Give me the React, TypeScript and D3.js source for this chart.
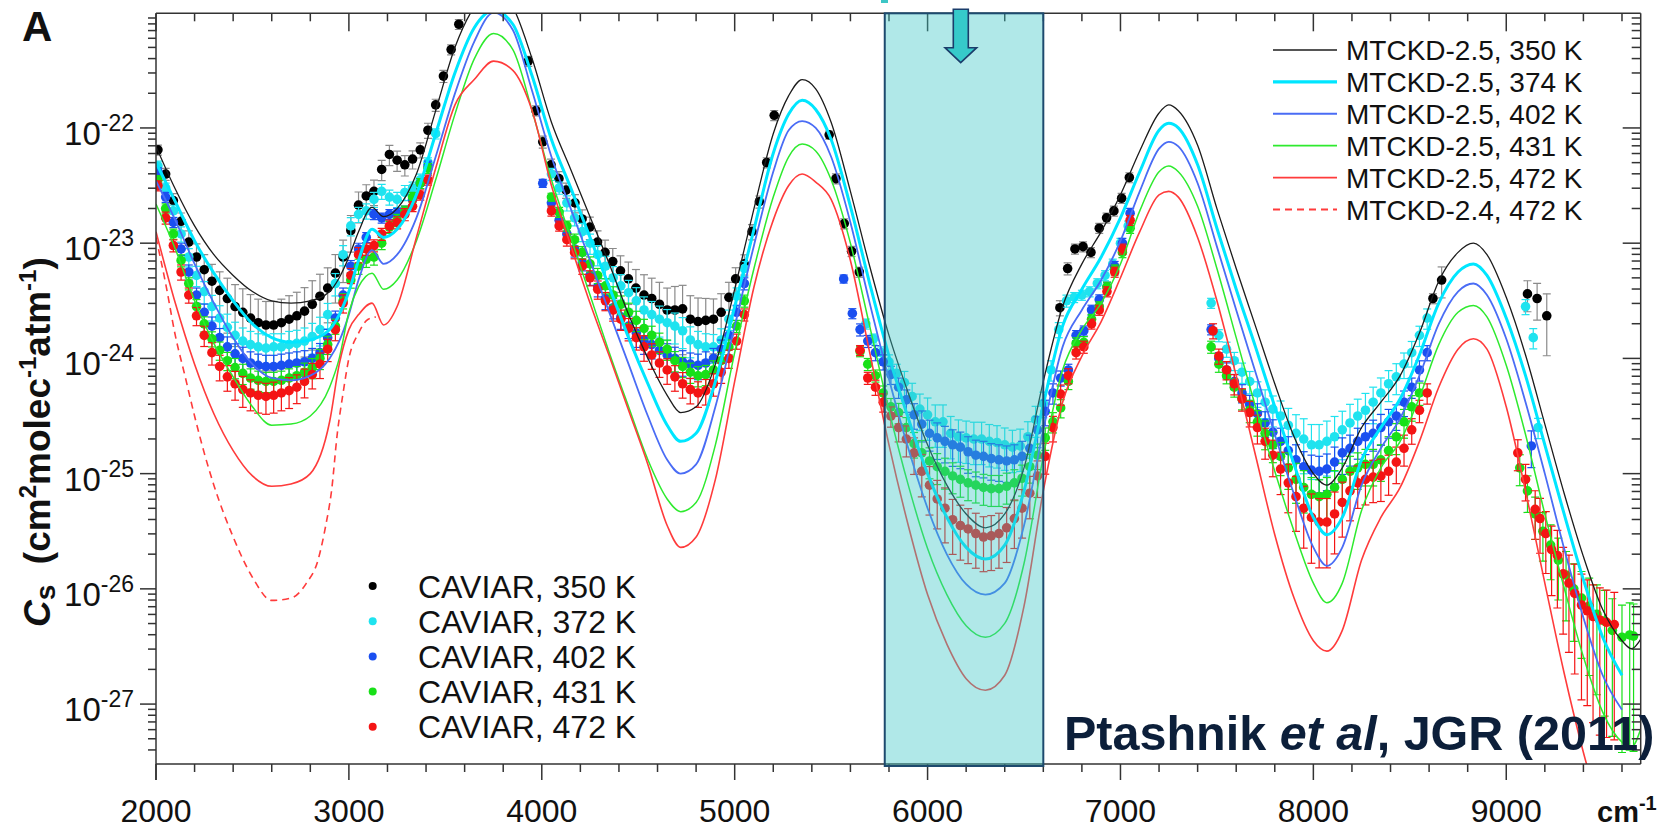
import React from "react";
import * as d3 from "d3";

const FONT = "'Liberation Sans', Arial, Helvetica, sans-serif";
const W = 1661;
const H = 829;
const PL = 156;
const PR = 1640.7;
const PT = 13.3;
const PB = 764;

const X_DOMAIN = [2000, 9697];
const Y_LOG_MIN = -27.52;
const Y_LOG_MAX = -21.005;

const xMajorTicks = [2000, 3000, 4000, 5000, 6000, 7000, 8000, 9000];
const yDecades = [-27, -26, -25, -24, -23, -22];

// ---------- MTCKD model curves (log10 of Cs) ----------
const modelX = [2000, 2100, 2200, 2300, 2400, 2500, 2600, 2700, 2800, 2900, 2950, 3000, 3050, 3120, 3180, 3250, 3350, 3450, 3550, 3650, 3750, 3850, 3950, 4050, 4150, 4250, 4350, 4450, 4550, 4650, 4720, 4800, 4900, 5000, 5100, 5200, 5280, 5350, 5420, 5500, 5600, 5700, 5800, 5900, 6000, 6100, 6200, 6300, 6400, 6500, 6600, 6700, 6800, 6900, 7000, 7100, 7200, 7250, 7300, 7400, 7500, 7600, 7700, 7800, 7900, 8000, 8070, 8150, 8250, 8350, 8450, 8550, 8650, 8750, 8830, 8900, 9000, 9100, 9200, 9300, 9400, 9500, 9600, 9650, 9700];

const mtckd350 = [-22.16, -22.53, -22.85, -23.10, -23.28, -23.42, -23.50, -23.52, -23.50, -23.42, -23.30, -23.12, -22.90, -22.69, -22.77, -22.70, -22.40, -21.85, -21.30, -20.95, -20.80, -20.95, -21.40, -21.95, -22.36, -22.77, -23.18, -23.62, -24.00, -24.32, -24.47, -24.42, -24.05, -23.40, -22.70, -22.05, -21.72, -21.58, -21.66, -21.95, -22.55, -23.20, -23.80, -24.30, -24.75, -25.10, -25.35, -25.47, -25.35, -24.95, -24.20, -23.55, -23.18, -22.90, -22.58, -22.20, -21.87, -21.80, -21.85, -22.15, -22.70, -23.22, -23.72, -24.22, -24.68, -25.00, -25.10, -24.95, -24.60, -24.38, -24.15, -23.78, -23.33, -23.08, -23.00, -23.10, -23.47, -23.97, -24.57, -25.17, -25.72, -26.18, -26.45, -26.52, -26.43];

const mtckd374 = [-22.30, -22.64, -22.98, -23.26, -23.50, -23.70, -23.82, -23.86, -23.84, -23.75, -23.62, -23.42, -23.15, -22.88, -22.95, -22.88, -22.58, -22.05, -21.52, -21.13, -20.98, -21.10, -21.55, -22.10, -22.52, -22.95, -23.38, -23.82, -24.22, -24.58, -24.72, -24.65, -24.20, -23.55, -22.88, -22.22, -21.88, -21.76, -21.84, -22.10, -22.68, -23.35, -23.98, -24.52, -25.00, -25.38, -25.64, -25.74, -25.62, -25.15, -24.40, -23.72, -23.40, -23.12, -22.78, -22.38, -22.02, -21.96, -22.00, -22.32, -22.87, -23.40, -23.90, -24.42, -24.92, -25.38, -25.53, -25.38, -24.88, -24.60, -24.35, -23.97, -23.52, -23.25, -23.18, -23.28, -23.65, -24.15, -24.75, -25.35, -25.92, -26.42, -26.75, null, null];

const mtckd402 = [-22.46, -22.80, -23.18, -23.52, -23.82, -24.05, -24.17, -24.19, -24.15, -24.00, -23.85, -23.62, -23.32, -23.06, -23.18, -23.10, -22.78, -22.25, -21.70, -21.25, -21.00, -21.15, -21.68, -22.25, -22.70, -23.15, -23.60, -24.05, -24.50, -24.88, -25.00, -24.92, -24.42, -23.72, -23.02, -22.38, -22.02, -21.94, -22.00, -22.25, -22.82, -23.52, -24.18, -24.78, -25.30, -25.70, -25.96, -26.05, -25.95, -25.45, -24.62, -23.90, -23.58, -23.32, -22.98, -22.55, -22.18, -22.12, -22.16, -22.48, -23.03, -23.58, -24.12, -24.66, -25.18, -25.64, -25.80, -25.64, -25.10, -24.78, -24.52, -24.15, -23.70, -23.42, -23.35, -23.45, -23.83, -24.38, -25.00, -25.65, -26.25, -26.75, -27.05, null, null];

const mtckd431 = [-22.66, -23.05, -23.50, -23.87, -24.16, -24.42, -24.58, -24.57, -24.50, -24.25, -24.00, -23.60, -23.38, -23.26, -23.40, -23.32, -22.98, -22.45, -21.88, -21.40, -21.18, -21.32, -21.85, -22.45, -22.95, -23.45, -23.95, -24.42, -24.88, -25.22, -25.33, -25.25, -24.75, -23.95, -23.22, -22.60, -22.25, -22.14, -22.20, -22.45, -23.00, -23.72, -24.45, -25.10, -25.65, -26.05, -26.32, -26.42, -26.30, -25.78, -24.85, -24.10, -23.75, -23.52, -23.18, -22.72, -22.38, -22.33, -22.38, -22.68, -23.22, -23.82, -24.42, -24.98, -25.50, -25.95, -26.12, -25.95, -25.32, -24.95, -24.72, -24.34, -23.88, -23.60, -23.54, -23.64, -24.06, -24.66, -25.35, -25.99, -26.59, -27.07, -27.33, -27.37, -27.20];

const mtckd472 = [-22.90, -23.52, -24.05, -24.48, -24.80, -25.02, -25.11, -25.09, -25.00, -24.55, -24.05, -23.75, -23.62, -23.52, -23.71, -23.55, -22.95, -22.35, -21.80, -21.58, -21.42, -21.50, -21.85, -22.50, -23.02, -23.52, -23.98, -24.45, -24.92, -25.45, -25.64, -25.55, -25.05, -24.20, -23.38, -22.80, -22.50, -22.40, -22.47, -22.62, -23.15, -23.95, -24.75, -25.45, -26.05, -26.48, -26.78, -26.88, -26.75, -26.15, -25.15, -24.38, -23.98, -23.68, -23.30, -22.90, -22.58, -22.55, -22.60, -22.95, -23.50, -24.15, -24.84, -25.53, -26.08, -26.45, -26.54, -26.36, -25.75, -25.38, -25.12, -24.72, -24.25, -23.92, -23.83, -23.92, -24.42, -25.15, -25.95, -26.73, -27.42, -28.00, null, null, null];

const mtckd24X = [2000, 2050, 2100, 2150, 2200, 2250, 2300, 2400, 2500, 2600, 2700, 2780, 2840, 2880, 2910, 2940, 2970, 3000, 3050, 3100, 3140];
const mtckd24_472 = [-22.95, -23.35, -23.80, -24.15, -24.50, -24.82, -25.10, -25.55, -25.90, -26.10, -26.08, -25.95, -25.75, -25.45, -25.15, -24.65, -24.30, -24.00, -23.78, -23.66, -23.64];

// ---------- CAVIAR measurements: [wavenumber, log10 Cs, relative uncertainty] ----------
type Pt = [number, number, number];

const caviar350: Pt[] = [
  [2010, -22.19, 0.1], [2050, -22.40, 0.12], [2090, -22.63, 0.15], [2130, -22.81, 0.18], [2170, -22.99, 0.25], [2210, -23.12, 0.3], [2250, -23.23, 0.35], [2290, -23.33, 0.4], [2330, -23.41, 0.45], [2370, -23.48, 0.5], [2410, -23.55, 0.55], [2450, -23.60, 0.6], [2490, -23.65, 0.6], [2530, -23.69, 0.6], [2570, -23.71, 0.6], [2610, -23.71, 0.6], [2650, -23.69, 0.6], [2690, -23.66, 0.6], [2730, -23.63, 0.6], [2770, -23.59, 0.6], [2810, -23.53, 0.6], [2850, -23.46, 0.55], [2890, -23.39, 0.5], [2930, -23.26, 0.45], [2970, -23.12, 0.4], [3010, -22.89, 0.35], [3050, -22.67, 0.3], [3090, -22.59, 0.25], [3130, -22.55, 0.25], [3170, -22.36, 0.2], [3210, -22.23, 0.2], [3250, -22.28, 0.2], [3290, -22.32, 0.2], [3330, -22.27, 0.18], [3370, -22.19, 0.15], [3410, -22.02, 0.15], [3450, -21.80, 0.12], [3490, -21.55, 0.12], [3530, -21.32, 0.1], [3570, -21.10, 0.1],
  [3930, -21.42, 0.1], [3970, -21.85, 0.1], [4005, -22.12, 0.12], [4048, -22.32, 0.12], [4089, -22.44, 0.15], [4126, -22.54, 0.15], [4172, -22.65, 0.18], [4209, -22.79, 0.2], [4249, -22.86, 0.22], [4289, -22.99, 0.25], [4328, -23.08, 0.28], [4368, -23.16, 0.3], [4408, -23.24, 0.35], [4449, -23.31, 0.4], [4488, -23.39, 0.45], [4530, -23.45, 0.5], [4570, -23.48, 0.5], [4610, -23.53, 0.55], [4650, -23.58, 0.55], [4690, -23.58, 0.6], [4730, -23.57, 0.6], [4770, -23.66, 0.6], [4810, -23.68, 0.6], [4850, -23.67, 0.55], [4890, -23.66, 0.5], [4930, -23.60, 0.45], [4970, -23.47, 0.35], [5005, -23.31, 0.25], [5050, -23.18, 0.2], [5090, -22.90, 0.15], [5128, -22.64, 0.12], [5166, -22.30, 0.1], [5205, -21.89, 0.1],
  [5490, -22.06, 0.08], [5525, -22.44, 0.1], [5568, -22.83, 0.1], [5606, -23.07, 0.1], [5646, -23.25, 0.1],
  [6686, -23.56, 0.15], [6726, -23.22, 0.12], [6764, -23.05, 0.1], [6806, -23.03, 0.1], [6847, -23.08, 0.1], [6890, -22.87, 0.1], [6928, -22.78, 0.1], [6966, -22.72, 0.1], [7006, -22.61, 0.1], [7046, -22.43, 0.1],
  [8620, -23.48, 0.1], [8665, -23.32, 0.3], [9110, -23.44, 0.3], [9160, -23.48, 0.35], [9210, -23.63, 0.55],
];

const caviar372: Pt[] = [
  [2010, -22.33, 0.1], [2050, -22.52, 0.1], [2090, -22.72, 0.12], [2130, -22.92, 0.15], [2170, -23.12, 0.18], [2210, -23.28, 0.2], [2250, -23.42, 0.22], [2290, -23.55, 0.25], [2330, -23.65, 0.28], [2370, -23.73, 0.3], [2410, -23.80, 0.3], [2450, -23.85, 0.3], [2490, -23.88, 0.3], [2530, -23.90, 0.3], [2570, -23.91, 0.3], [2610, -23.90, 0.3], [2650, -23.90, 0.3], [2690, -23.88, 0.3], [2730, -23.87, 0.3], [2770, -23.85, 0.3], [2810, -23.81, 0.3], [2850, -23.75, 0.28], [2890, -23.62, 0.25], [2930, -23.35, 0.22], [2970, -23.10, 0.2], [3010, -22.85, 0.18], [3050, -22.75, 0.15], [3090, -22.72, 0.15], [3130, -22.62, 0.15], [3170, -22.55, 0.15], [3210, -22.60, 0.15], [3250, -22.62, 0.15], [3290, -22.56, 0.15], [3330, -22.52, 0.12], [3370, -22.45, 0.12], [3410, -22.30, 0.1], [3450, -22.05, 0.1],
  [4050, -22.40, 0.12], [4090, -22.52, 0.12], [4130, -22.65, 0.15], [4170, -22.78, 0.15], [4210, -22.90, 0.18], [4250, -23.00, 0.2], [4290, -23.10, 0.2], [4330, -23.20, 0.22], [4370, -23.30, 0.25], [4410, -23.37, 0.25], [4450, -23.43, 0.28], [4490, -23.50, 0.3], [4530, -23.58, 0.3], [4570, -23.62, 0.3], [4610, -23.66, 0.3], [4650, -23.69, 0.3], [4690, -23.72, 0.3], [4730, -23.76, 0.3], [4770, -23.84, 0.3], [4810, -23.88, 0.3], [4850, -23.90, 0.3], [4890, -23.90, 0.28], [4930, -23.84, 0.25], [4970, -23.66, 0.2], [5010, -23.46, 0.18], [5050, -23.22, 0.15],
  [5680, -23.70, 0.1], [5720, -23.83, 0.1], [5760, -23.95, 0.12], [5800, -24.03, 0.15], [5840, -24.13, 0.2], [5880, -24.21, 0.25], [5920, -24.33, 0.3], [5960, -24.44, 0.35], [6000, -24.49, 0.4], [6040, -24.55, 0.4], [6080, -24.55, 0.4], [6120, -24.65, 0.4], [6160, -24.68, 0.4], [6200, -24.69, 0.4], [6240, -24.70, 0.4], [6280, -24.70, 0.4], [6320, -24.72, 0.4], [6360, -24.73, 0.4], [6400, -24.75, 0.4], [6440, -24.77, 0.4], [6480, -24.76, 0.4], [6520, -24.68, 0.35], [6560, -24.53, 0.3], [6600, -24.39, 0.25], [6640, -24.10, 0.2], [6680, -23.75, 0.15], [6720, -23.50, 0.12], [6760, -23.47, 0.1], [6800, -23.45, 0.1], [6840, -23.42, 0.1], [6880, -23.35, 0.1], [6920, -23.28, 0.1], [6960, -23.18, 0.1], [7000, -23.00, 0.1], [7040, -22.85, 0.1],
  [7470, -23.52, 0.1], [7510, -23.80, 0.12], [7550, -23.92, 0.15], [7590, -24.02, 0.18], [7630, -24.12, 0.2], [7670, -24.20, 0.22], [7710, -24.30, 0.25], [7750, -24.38, 0.28], [7790, -24.44, 0.3], [7830, -24.50, 0.35], [7870, -24.58, 0.4], [7910, -24.65, 0.45], [7950, -24.70, 0.5], [7990, -24.75, 0.5], [8030, -24.75, 0.5], [8070, -24.72, 0.5], [8110, -24.68, 0.5], [8150, -24.62, 0.45], [8190, -24.56, 0.45], [8230, -24.50, 0.4], [8270, -24.45, 0.4], [8310, -24.38, 0.35], [8350, -24.30, 0.35], [8390, -24.22, 0.3], [8430, -24.16, 0.3], [8470, -24.05, 0.25], [8510, -23.95, 0.25], [8550, -23.80, 0.2], [8590, -23.65, 0.2],
  [9100, -23.55, 0.15], [9140, -23.82, 0.2], [9165, -24.60, 0.2],
];

const caviar402: Pt[] = [
  [2010, -22.38, 0.08], [2050, -22.60, 0.1], [2090, -22.82, 0.1], [2130, -23.05, 0.12], [2170, -23.25, 0.15], [2210, -23.45, 0.15], [2250, -23.60, 0.18], [2290, -23.72, 0.2], [2330, -23.82, 0.2], [2370, -23.90, 0.22], [2410, -23.96, 0.22], [2450, -24.00, 0.25], [2490, -24.04, 0.25], [2530, -24.06, 0.25], [2570, -24.07, 0.25], [2610, -24.07, 0.25], [2650, -24.06, 0.25], [2690, -24.05, 0.25], [2730, -24.04, 0.25], [2770, -24.03, 0.25], [2810, -24.00, 0.22], [2850, -23.95, 0.2], [2890, -23.82, 0.18], [2930, -23.65, 0.15], [2970, -23.45, 0.15], [3010, -23.20, 0.12], [3050, -23.05, 0.12], [3090, -22.95, 0.1], [3130, -22.75, 0.1], [3170, -22.78, 0.1], [3210, -22.75, 0.1], [3250, -22.74, 0.1], [3290, -22.72, 0.1], [3330, -22.62, 0.1], [3370, -22.48, 0.1], [3410, -22.33, 0.1],
  [4005, -22.48, 0.08], [4050, -22.65, 0.1], [4090, -22.80, 0.12], [4130, -22.92, 0.12], [4170, -23.05, 0.15], [4210, -23.17, 0.15], [4250, -23.28, 0.18], [4290, -23.38, 0.18], [4330, -23.48, 0.2], [4370, -23.56, 0.2], [4410, -23.64, 0.22], [4450, -23.72, 0.22], [4490, -23.78, 0.25], [4530, -23.84, 0.25], [4570, -23.88, 0.25], [4610, -23.93, 0.25], [4650, -23.97, 0.25], [4690, -24.00, 0.25], [4730, -24.03, 0.25], [4770, -24.05, 0.25], [4810, -24.06, 0.25], [4850, -24.04, 0.25], [4890, -24.00, 0.22], [4930, -23.92, 0.2], [4970, -23.80, 0.18], [5010, -23.60, 0.15], [5050, -23.35, 0.12],
  [5565, -23.31, 0.08], [5610, -23.61, 0.1], [5650, -23.75, 0.12], [5690, -23.85, 0.12], [5730, -23.95, 0.15], [5770, -24.03, 0.15], [5810, -24.14, 0.18], [5850, -24.25, 0.2], [5890, -24.36, 0.22], [5930, -24.49, 0.25], [5970, -24.57, 0.3], [6010, -24.65, 0.3], [6050, -24.69, 0.35], [6090, -24.72, 0.35], [6130, -24.75, 0.35], [6170, -24.77, 0.35], [6210, -24.81, 0.35], [6250, -24.84, 0.35], [6290, -24.85, 0.35], [6330, -24.87, 0.35], [6370, -24.88, 0.35], [6410, -24.89, 0.35], [6450, -24.88, 0.35], [6490, -24.85, 0.35], [6530, -24.78, 0.3], [6570, -24.62, 0.3], [6610, -24.46, 0.25], [6650, -24.30, 0.2], [6690, -24.17, 0.15], [6730, -24.10, 0.12], [6770, -23.80, 0.1], [6810, -23.76, 0.1], [6850, -23.58, 0.1], [6890, -23.49, 0.1], [6930, -23.38, 0.1], [6970, -23.20, 0.1], [7010, -23.00, 0.1], [7050, -22.74, 0.1],
  [7470, -23.75, 0.1], [7510, -24.00, 0.12], [7550, -24.10, 0.15], [7590, -24.20, 0.15], [7630, -24.30, 0.18], [7670, -24.40, 0.2], [7710, -24.48, 0.22], [7750, -24.56, 0.25], [7790, -24.64, 0.28], [7830, -24.72, 0.3], [7870, -24.80, 0.32], [7910, -24.88, 0.35], [7950, -24.94, 0.35], [7990, -24.97, 0.35], [8030, -24.98, 0.35], [8070, -24.96, 0.35], [8110, -24.90, 0.35], [8150, -24.82, 0.35], [8190, -24.78, 0.3], [8230, -24.72, 0.3], [8270, -24.68, 0.3], [8310, -24.65, 0.3], [8350, -24.60, 0.3], [8390, -24.55, 0.28], [8430, -24.50, 0.25], [8470, -24.38, 0.25], [8510, -24.25, 0.2], [8550, -24.10, 0.2], [8590, -23.95, 0.15],
  [9130, -24.76, 0.35],
];

const caviar431: Pt[] = [
  [2010, -22.45, 0.08], [2050, -22.70, 0.1], [2090, -22.92, 0.1], [2130, -23.15, 0.12], [2170, -23.35, 0.12], [2210, -23.55, 0.15], [2250, -23.70, 0.15], [2290, -23.83, 0.15], [2330, -23.93, 0.18], [2370, -24.02, 0.18], [2410, -24.08, 0.2], [2450, -24.13, 0.2], [2490, -24.17, 0.2], [2530, -24.19, 0.2], [2570, -24.20, 0.2], [2610, -24.20, 0.2], [2650, -24.19, 0.2], [2690, -24.17, 0.2], [2730, -24.15, 0.2], [2770, -24.12, 0.2], [2810, -24.08, 0.2], [2850, -24.00, 0.2], [2890, -23.88, 0.18], [2930, -23.72, 0.15], [2970, -23.50, 0.15], [3010, -23.32, 0.15], [3050, -23.20, 0.15], [3090, -23.14, 0.15], [3130, -23.12, 0.15], [3170, -23.00, 0.12], [3210, -22.86, 0.12], [3250, -22.80, 0.12], [3290, -22.72, 0.1], [3330, -22.60, 0.1], [3370, -22.48, 0.1], [3410, -22.35, 0.1],
  [4050, -22.60, 0.08], [4090, -22.73, 0.1], [4130, -22.85, 0.1], [4170, -22.97, 0.12], [4210, -23.08, 0.12], [4250, -23.18, 0.15], [4290, -23.28, 0.15], [4330, -23.37, 0.15], [4370, -23.45, 0.18], [4410, -23.53, 0.18], [4450, -23.60, 0.2], [4490, -23.67, 0.2], [4530, -23.74, 0.2], [4570, -23.80, 0.2], [4610, -23.86, 0.2], [4650, -23.92, 0.2], [4690, -24.02, 0.2], [4730, -24.07, 0.2], [4770, -24.12, 0.2], [4810, -24.15, 0.2], [4850, -24.14, 0.2], [4890, -24.10, 0.2], [4930, -24.02, 0.18], [4970, -23.90, 0.15], [5010, -23.72, 0.12], [5050, -23.50, 0.12],
  [5650, -23.94, 0.1], [5690, -24.05, 0.12], [5730, -24.15, 0.12], [5770, -24.30, 0.15], [5810, -24.42, 0.18], [5850, -24.47, 0.2], [5890, -24.60, 0.22], [5930, -24.74, 0.25], [5970, -24.82, 0.28], [6010, -24.89, 0.3], [6050, -24.94, 0.3], [6090, -24.98, 0.3], [6130, -25.02, 0.3], [6170, -25.05, 0.3], [6210, -25.08, 0.3], [6250, -25.10, 0.3], [6290, -25.12, 0.3], [6330, -25.13, 0.3], [6370, -25.13, 0.3], [6410, -25.11, 0.3], [6450, -25.08, 0.3], [6490, -25.04, 0.3], [6530, -24.94, 0.28], [6570, -24.84, 0.25], [6610, -24.69, 0.22], [6650, -24.55, 0.2], [6690, -24.43, 0.18], [6730, -24.20, 0.15], [6770, -23.87, 0.12], [6810, -23.86, 0.12], [6850, -23.66, 0.1], [6890, -23.55, 0.1], [6930, -23.38, 0.1], [6970, -23.23, 0.1], [7010, -23.08, 0.1], [7050, -22.87, 0.1],
  [7470, -23.90, 0.12], [7510, -24.05, 0.15], [7550, -24.15, 0.15], [7590, -24.25, 0.18], [7630, -24.35, 0.2], [7670, -24.45, 0.22], [7710, -24.55, 0.25], [7750, -24.65, 0.28], [7790, -24.75, 0.3], [7830, -24.85, 0.32], [7870, -24.95, 0.35], [7910, -25.05, 0.38], [7950, -25.12, 0.4], [7990, -25.18, 0.4], [8030, -25.20, 0.4], [8070, -25.18, 0.4], [8110, -25.12, 0.4], [8150, -25.05, 0.38], [8190, -24.98, 0.35], [8230, -24.95, 0.35], [8270, -24.92, 0.35], [8310, -24.92, 0.35], [8350, -24.88, 0.35], [8390, -24.80, 0.32], [8430, -24.68, 0.3], [8470, -24.55, 0.28], [8510, -24.42, 0.25], [8550, -24.30, 0.22],
  [9070, -24.95, 0.3], [9110, -25.15, 0.35], [9150, -25.35, 0.4], [9190, -25.50, 0.45], [9230, -25.62, 0.5], [9270, -25.75, 0.55], [9310, -25.88, 0.6], [9350, -26.00, 0.65], [9390, -26.08, 0.7], [9430, -26.15, 0.75], [9470, -26.22, 0.8], [9510, -26.28, 0.85], [9550, -26.36, 0.88], [9600, -26.42, 0.9], [9640, -26.40, 0.9], [9660, -26.41, 0.9],
];

const caviar472: Pt[] = [
  [2010, -22.50, 0.1], [2050, -22.78, 0.12], [2090, -23.02, 0.12], [2130, -23.25, 0.15], [2170, -23.45, 0.15], [2210, -23.63, 0.18], [2250, -23.80, 0.2], [2290, -23.95, 0.22], [2330, -24.07, 0.25], [2370, -24.16, 0.25], [2410, -24.22, 0.28], [2450, -24.27, 0.3], [2490, -24.30, 0.3], [2530, -24.32, 0.3], [2570, -24.33, 0.3], [2610, -24.32, 0.3], [2650, -24.30, 0.3], [2690, -24.28, 0.3], [2730, -24.25, 0.28], [2770, -24.20, 0.28], [2810, -24.14, 0.25], [2850, -24.05, 0.25], [2890, -23.92, 0.22], [2930, -23.75, 0.2], [2970, -23.52, 0.18], [3010, -23.28, 0.15], [3050, -23.10, 0.15], [3090, -23.05, 0.12], [3130, -23.02, 0.12], [3170, -22.92, 0.12], [3210, -22.85, 0.12], [3250, -22.82, 0.12], [3290, -22.75, 0.12], [3330, -22.68, 0.1], [3370, -22.58, 0.1], [3410, -22.45, 0.1],
  [4050, -22.72, 0.1], [4090, -22.85, 0.1], [4130, -22.97, 0.12], [4170, -23.08, 0.12], [4210, -23.20, 0.15], [4250, -23.30, 0.15], [4290, -23.40, 0.18], [4330, -23.50, 0.18], [4370, -23.58, 0.2], [4410, -23.66, 0.2], [4450, -23.74, 0.22], [4490, -23.82, 0.22], [4530, -23.90, 0.25], [4570, -23.97, 0.25], [4610, -24.04, 0.25], [4650, -24.10, 0.25], [4690, -24.16, 0.25], [4730, -24.22, 0.25], [4770, -24.27, 0.25], [4810, -24.30, 0.25], [4850, -24.28, 0.25], [4890, -24.22, 0.22], [4930, -24.12, 0.2], [4970, -24.00, 0.18], [5010, -23.85, 0.15], [5050, -23.62, 0.12],
  [5650, -23.93, 0.1], [5690, -24.17, 0.12], [5730, -24.25, 0.15], [5770, -24.38, 0.18], [5810, -24.50, 0.2], [5850, -24.60, 0.25], [5890, -24.70, 0.3], [5930, -24.82, 0.35], [5970, -24.98, 0.4], [6010, -25.10, 0.45], [6050, -25.22, 0.45], [6090, -25.30, 0.5], [6130, -25.40, 0.5], [6170, -25.45, 0.5], [6210, -25.48, 0.5], [6250, -25.52, 0.5], [6290, -25.55, 0.5], [6330, -25.54, 0.5], [6370, -25.52, 0.5], [6410, -25.47, 0.5], [6450, -25.39, 0.45], [6490, -25.30, 0.45], [6530, -25.17, 0.4], [6570, -25.02, 0.35], [6610, -24.85, 0.3], [6650, -24.60, 0.25], [6690, -24.31, 0.2], [6730, -24.15, 0.15], [6770, -23.95, 0.12], [6810, -23.90, 0.12], [6850, -23.70, 0.1], [6890, -23.58, 0.1], [6930, -23.42, 0.1], [6970, -23.25, 0.1], [7010, -23.05, 0.1], [7050, -22.80, 0.1],
  [7480, -23.76, 0.15], [7510, -23.98, 0.15], [7550, -24.10, 0.18], [7590, -24.22, 0.2], [7630, -24.35, 0.22], [7670, -24.47, 0.25], [7710, -24.60, 0.28], [7750, -24.72, 0.3], [7790, -24.84, 0.35], [7830, -24.96, 0.4], [7870, -25.08, 0.45], [7910, -25.20, 0.5], [7950, -25.30, 0.55], [7990, -25.38, 0.6], [8030, -25.42, 0.6], [8070, -25.42, 0.6], [8110, -25.35, 0.55], [8150, -25.25, 0.5], [8190, -25.15, 0.45], [8230, -25.08, 0.4], [8270, -25.05, 0.4], [8310, -25.03, 0.4], [8350, -25.02, 0.4], [8390, -24.98, 0.38], [8430, -24.90, 0.35], [8470, -24.78, 0.3], [8510, -24.62, 0.25], [8550, -24.45, 0.22], [8590, -24.30, 0.2],
  [9060, -24.82, 0.3], [9100, -25.05, 0.35], [9150, -25.31, 0.45], [9175, -25.39, 0.5], [9205, -25.52, 0.55], [9235, -25.66, 0.6], [9265, -25.71, 0.65], [9295, -25.87, 0.7], [9325, -25.95, 0.75], [9355, -26.04, 0.8], [9390, -26.14, 0.85], [9420, -26.19, 0.85], [9450, -26.24, 0.88], [9485, -26.27, 0.9], [9520, -26.29, 0.9], [9560, -26.31, 0.9],
];

const highlightBand = [5778, 6600];

const modelSeries = [
  { label: "MTCKD-2.5, 350 K", vals: mtckd350, color: "#1c1c1c", width: 1.3 },
  { label: "MTCKD-2.5, 374 K", vals: mtckd374, color: "#00e6ff", width: 3 },
  { label: "MTCKD-2.5, 402 K", vals: mtckd402, color: "#4a6cf5", width: 1.8 },
  { label: "MTCKD-2.5, 431 K", vals: mtckd431, color: "#2eea2e", width: 1.5 },
  { label: "MTCKD-2.5, 472 K", vals: mtckd472, color: "#ff3b3b", width: 1.6 },
];

const caviarSeries = [
  { label: "CAVIAR, 350 K", pts: caviar350, color: "#000000", bar: "#8a8a8a" },
  { label: "CAVIAR, 372 K", pts: caviar372, color: "#1fe3ef", bar: "#1fe3ef" },
  { label: "CAVIAR, 402 K", pts: caviar402, color: "#1a4ff0", bar: "#1a4ff0" },
  { label: "CAVIAR, 431 K", pts: caviar431, color: "#18e018", bar: "#18e018" },
  { label: "CAVIAR, 472 K", pts: caviar472, color: "#f41414", bar: "#f41414" },
];

export default function App() {
  const x = d3.scaleLinear().domain(X_DOMAIN).range([PL, PR]);
  const y = d3.scaleLog().domain([Math.pow(10, Y_LOG_MIN), Math.pow(10, Y_LOG_MAX)]).range([PB, PT]);
  const yl = (v: number) => y(Math.pow(10, v));

  const line = d3
    .line<[number, number | null]>()
    .defined((d) => d[1] !== null)
    .x((d) => x(d[0]))
    .y((d) => yl(d[1] as number))
    .curve(d3.curveMonotoneX);

  const xMinor = d3.range(2000, 9700, 200).filter((v) => v % 1000 !== 0);
  const yMinor: number[] = [];
  for (let dcd = -28; dcd <= -22; dcd++) {
    for (let k = 2; k <= 9; k++) {
      const v = k * Math.pow(10, dcd);
      const lv = Math.log10(v);
      if (lv > Y_LOG_MIN && lv < Y_LOG_MAX) yMinor.push(lv);
    }
  }

  const axisColor = "#333";
  const capW = 4;

  return (
    <svg width={W} height={H} style={{ position: "absolute", left: 0, top: 0, background: "#fff" }} fontFamily={FONT}>
      <defs>
        <clipPath id="plotClip">
          <rect x={PL} y={PT} width={PR - PL} height={PB - PT} />
        </clipPath>
      </defs>
      <rect x={0} y={0} width={W} height={H} fill="#fff" />

      {/* data */}
      <g clipPath="url(#plotClip)">
        {caviarSeries.map((s, si) => (
          <g key={"c" + si}>
            {s.pts.map((p, i) => {
              const v = Math.pow(10, p[1]);
              const f = Math.min(p[2], 0.97);
              const yHi = y(v * (1 + f));
              const yLo = y(v * (1 - f));
              const cx = x(p[0]);
              return (
                <g key={i} stroke={s.bar} strokeWidth={1.2}>
                  <line x1={cx} x2={cx} y1={yHi} y2={yLo} />
                  <line x1={cx - capW} x2={cx + capW} y1={yHi} y2={yHi} />
                  <line x1={cx - capW} x2={cx + capW} y1={yLo} y2={yLo} />
                </g>
              );
            })}
            {s.pts.map((p, i) => (
              <circle key={"d" + i} cx={x(p[0])} cy={yl(p[1])} r={4.8} fill={s.color} />
            ))}
          </g>
        ))}
        {modelSeries.map((s, si) => (
          <path
            key={"m" + si}
            d={line(modelX.map((xv, i) => [xv, s.vals[i]] as [number, number | null])) || ""}
            fill="none"
            stroke={s.color}
            strokeWidth={s.width}
          />
        ))}
        <path
          d={line(mtckd24X.map((xv, i) => [xv, mtckd24_472[i]] as [number, number | null])) || ""}
          fill="none"
          stroke="#ff3b3b"
          strokeWidth={1.6}
          strokeDasharray="7,5"
        />
      </g>

      {/* axes */}
      <g stroke={axisColor} strokeWidth={1.5} fill="none">
        <line x1={PL} x2={PL} y1={PT} y2={PB + 16} />
        <line x1={PR} x2={PR} y1={PT} y2={PB} />
        <line x1={PL} x2={PR} y1={PB} y2={PB} />
        <line x1={PL} x2={PR} y1={PT} y2={PT} />
        {xMajorTicks.map((t) => (
          <g key={"xt" + t}>
            <line x1={x(t)} x2={x(t)} y1={PB} y2={PB + 16} />
            <line x1={x(t)} x2={x(t)} y1={PT} y2={PT + 18} />
          </g>
        ))}
        {xMinor.map((t) => (
          <g key={"xm" + t}>
            <line x1={x(t)} x2={x(t)} y1={PB} y2={PB + 8} />
            <line x1={x(t)} x2={x(t)} y1={PT} y2={PT + 8} />
          </g>
        ))}
        {yDecades.map((d) => (
          <g key={"yt" + d}>
            <line x1={PL - 16} x2={PL} y1={yl(d)} y2={yl(d)} />
            <line x1={PR - 18} x2={PR} y1={yl(d)} y2={yl(d)} />
          </g>
        ))}
        {yMinor.map((lv, i) => (
          <g key={"ym" + i}>
            <line x1={PL - 8} x2={PL} y1={yl(lv)} y2={yl(lv)} />
            <line x1={PR - 9} x2={PR} y1={yl(lv)} y2={yl(lv)} />
          </g>
        ))}
      </g>

      {/* tick labels */}
      {xMajorTicks.map((t) => (
        <text key={"xl" + t} x={x(t)} y={822} textAnchor="middle" fontSize={32} fill="#111">
          {t}
        </text>
      ))}
      {yDecades.map((d) => (
        <text key={"yl" + d} x={134} y={yl(d) + 17} textAnchor="end" fontSize={33} fill="#111">
          <tspan>10</tspan>
          <tspan dy={-14} fontSize={23}>{String(d)}</tspan>
        </text>
      ))}

      <text x={1597} y={822} fontWeight="bold" fontSize={29} fill="#111">
        cm<tspan dy={-12} fontSize={20}>-1</tspan>
      </text>

      {/* y-axis title */}
      <text transform="translate(50,627) rotate(-90)" fontWeight="bold" fontSize={37} fill="#111">
        <tspan fontStyle="italic">C</tspan>
        <tspan fontSize={28} dy={5}>s</tspan>
        <tspan dy={-5}>{"\u00a0\u00a0(cm"}</tspan>
        <tspan fontSize={24} dy={-14}>2</tspan>
        <tspan dy={14}>molec</tspan>
        <tspan fontSize={24} dy={-14}>-1</tspan>
        <tspan dy={14}>atm</tspan>
        <tspan fontSize={24} dy={-14}>-1</tspan>
        <tspan dy={14}>)</tspan>
      </text>

      <text x={22} y={41} fontWeight="bold" fontSize={42} fill="#111">A</text>

      {/* highlighted band */}
      <rect
        x={x(highlightBand[0])}
        y={PT}
        width={x(highlightBand[1]) - x(highlightBand[0])}
        height={766 - PT}
        fill="rgb(58,197,197)"
        fillOpacity={0.4}
        stroke="#1d4a6e"
        strokeWidth={2}
      />
      <rect x={881} y={0} width={7} height={3} fill="#3cc6c6" />
      <polygon
        points="953.3,9.3 968.3,9.3 968.3,47.7 976.7,47.7 960.7,62.7 945,47.7 953.3,47.7"
        fill="#36caca"
        stroke="#1a3d6b"
        strokeWidth={1.6}
        strokeLinejoin="miter"
      />

      {/* model legend */}
      {modelSeries.map((s, i) => {
        const ry = 50 + i * 31.9;
        return (
          <g key={"ml" + i}>
            <line x1={1273} x2={1337} y1={ry} y2={ry} stroke={s.color} strokeWidth={s.width + 0.3} />
            <text x={1346} y={ry + 10} fontSize={28} fill="#111">{s.label}</text>
          </g>
        );
      })}
      <g>
        <line x1={1273} x2={1337} y1={50 + 5 * 31.9} y2={50 + 5 * 31.9} stroke="#ff3b3b" strokeWidth={1.8} strokeDasharray="7,5" />
        <text x={1346} y={50 + 5 * 31.9 + 10} fontSize={28} fill="#111">MTCKD-2.4, 472 K</text>
      </g>

      {/* caviar legend */}
      {caviarSeries.map((s, i) => {
        const ry = 586 + i * 35.2;
        return (
          <g key={"cl" + i}>
            <circle cx={372.7} cy={ry} r={4} fill={s.color} />
            <text x={418} y={ry + 11.5} fontSize={32} fill="#111">{s.label}</text>
          </g>
        );
      })}

      <text x={1064} y={750} fontWeight="bold" fontSize={48.5} fill="#0c1f3a">
        Ptashnik <tspan fontStyle="italic">et al</tspan>, JGR (2011)
      </text>
    </svg>
  );
}
